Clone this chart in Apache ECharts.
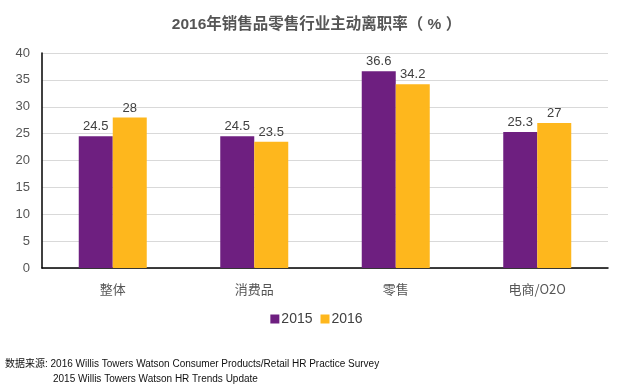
<!DOCTYPE html>
<html><head><meta charset="utf-8">
<script src="https://cdn.jsdelivr.net/npm/echarts@6/dist/echarts.min.js"></script>
<style>html,body{margin:0;padding:0;background:#fff}#c{width:633px;height:387px}</style>
</head><body><div id="c"></div>
<script>
const categories = ['整体', '消费品', '零售', '电商/O2O'];
const values2015 = [24.5, 24.5, 36.6, 25.3];
const values2016 = [28, 23.5, 34.2, 27];
const yTicks = [0, 5, 10, 15, 20, 25, 30, 35, 40];

const chart = echarts.init(document.getElementById('c'));
const labelStyle = {show: true, position: 'top', color: '#404040', fontSize: 13, fontFamily: 'Liberation Sans, Arial, sans-serif', distance: 3};
chart.setOption({
  animation: false,
  title: {
    text: '2016年销售品零售行业主动离职率（ % ）',
    left: 'center', top: 12,
    textStyle: {fontSize: 15.5, fontWeight: 'bold', color: '#555', fontFamily: 'Liberation Sans, Noto Sans CJK SC, sans-serif'}
  },
  legend: {
    data: ['2015', '2016'], bottom: 56, left: 'center',
    itemWidth: 9, itemHeight: 9, itemGap: 8, icon: 'rect',
    textStyle: {fontSize: 14, color: '#404040', fontFamily: 'Liberation Sans, Arial, sans-serif', padding: [0,0,0,-3]}
  },
  graphic: [
    {type: 'text', left: 5, top: 359, style: {text: '数据来源: 2016 Willis Towers Watson Consumer Products/Retail HR Practice Survey', fontSize: 10, fill: '#111', fontFamily: 'Liberation Sans, Noto Sans CJK SC, sans-serif'}},
    {type: 'text', left: 53, top: 374, style: {text: '2015 Willis Towers Watson HR Trends Update', fontSize: 10, fill: '#111', fontFamily: 'Liberation Sans, Arial, sans-serif'}}
  ],
  grid: {left: 42, right: 25, top: 53, bottom: 119, containLabel: false},
  xAxis: {
    type: 'category', data: categories,
    axisLine: {lineStyle: {color: '#000', width: 1.5}},
    axisTick: {show: false},
    axisLabel: {fontSize: 13, color: '#555', margin: 15, fontFamily: 'Noto Sans CJK SC, sans-serif'}
  },
  yAxis: {
    type: 'value', min: 0, max: 40, interval: 5,
    axisLine: {show: true, lineStyle: {color: '#000', width: 1.5}},
    axisTick: {show: false},
    splitLine: {lineStyle: {color: '#d9d9d9'}},
    axisLabel: {fontSize: 13, color: '#555', margin: 12, fontFamily: 'Liberation Sans, Arial, sans-serif',
      formatter: v => yTicks.includes(v) ? String(v) : ''}
  },
  series: [
    {name: '2015', type: 'bar', data: values2015, barWidth: 34, barGap: '0%', itemStyle: {color: '#6E1F80'}, label: labelStyle},
    {name: '2016', type: 'bar', data: values2016, barWidth: 34, itemStyle: {color: '#FEB71D'}, label: labelStyle}
  ]
});
</script></body></html>
